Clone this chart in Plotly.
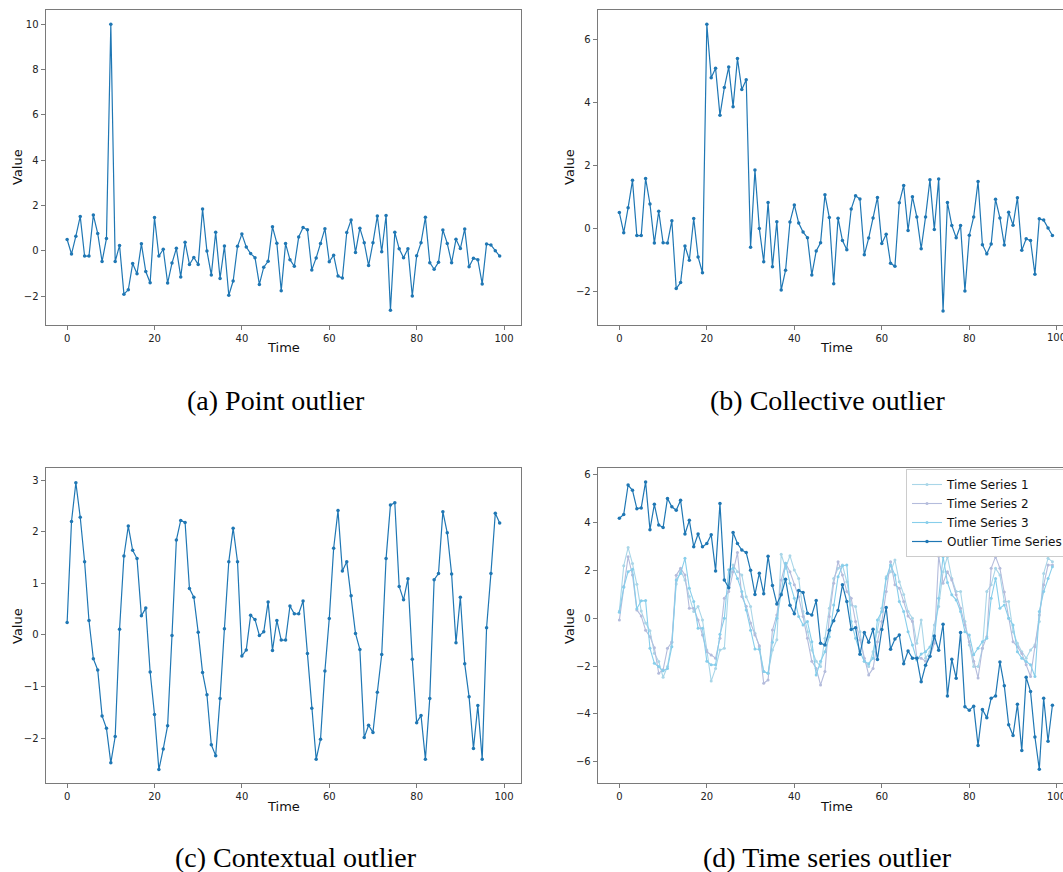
import plotly.graph_objects as go

W, H = 1063, 872
time = list(range(100))

point_vals = [0.50, -0.14, 0.65, 1.52, -0.23, -0.23, 1.58, 0.77, -0.47, 0.54,
              10.0, -0.47, 0.24, -1.91, -1.72, -0.56, -1.01, 0.31, -0.91, -1.41,
              1.47, -0.23, 0.07, -1.42, -0.54, 0.11, -1.15, 0.38, -0.60, -0.29,
              -0.60, 1.85, -0.01, -1.06, 0.82, -1.22, 0.21, -1.96, -1.33, 0.20,
              0.74, 0.17, -0.12, -0.30, -1.48, -0.72, -0.46, 1.06, 0.34, -1.76,
              0.32, -0.39, -0.68, 0.61, 1.03, 0.93, -0.84, -0.31, 0.33, 0.98,
              -0.48, -0.19, -1.11, -1.20, 0.81, 1.36, -0.07, 1.00, 0.36, -0.65,
              0.36, 1.54, -0.04, 1.56, -2.62, 0.82, 0.09, -0.30, 0.09, -1.99,
              -0.22, 0.36, 1.48, -0.52, -0.81, -0.50, 0.92, 0.33, -0.53, 0.51,
              0.10, 0.97, -0.70, -0.33, -0.39, -1.46, 0.30, 0.26, 0.01, -0.23]

collective_vals = [0.50, -0.14, 0.65, 1.52, -0.23, -0.23, 1.58, 0.77, -0.47, 0.54,
                   -0.46, -0.47, 0.24, -1.91, -1.72, -0.56, -1.01, 0.31, -0.91, -1.41,
                   6.47, 4.77, 5.07, 3.58, 4.46, 5.11, 3.85, 5.38, 4.40, 4.71,
                   -0.60, 1.85, -0.01, -1.06, 0.82, -1.22, 0.21, -1.96, -1.33, 0.20,
                   0.74, 0.17, -0.12, -0.30, -1.48, -0.72, -0.46, 1.06, 0.34, -1.76,
                   0.32, -0.39, -0.68, 0.61, 1.03, 0.93, -0.84, -0.31, 0.33, 0.98,
                   -0.48, -0.19, -1.11, -1.20, 0.81, 1.36, -0.07, 1.00, 0.36, -0.65,
                   0.36, 1.54, -0.04, 1.56, -2.62, 0.82, 0.09, -0.30, 0.09, -1.99,
                   -0.22, 0.36, 1.48, -0.52, -0.81, -0.50, 0.92, 0.33, -0.53, 0.51,
                   0.10, 0.97, -0.70, -0.33, -0.39, -1.46, 0.30, 0.26, 0.01, -0.23]

contextual_vals = [0.24, 2.20, 2.95, 2.28, 1.42, 0.28, -0.46, -0.68, -1.57, -1.81,
                   -2.48, -1.97, 0.11, 1.53, 2.11, 1.64, 1.48, 0.37, 0.52, -0.72,
                   -1.54, -2.61, -2.21, -1.76, -0.01, 1.84, 2.22, 2.18, 0.90, 0.73,
                   0.05, -0.73, -1.16, -2.13, -2.34, -1.23, 0.12, 1.42, 2.07, 1.42,
                   -0.41, -0.29, 0.38, 0.30, -0.01, 0.06, 0.64, -0.30, 0.28, -0.10,
                   -0.10, 0.56, 0.41, 0.41, 0.66, -0.36, -1.42, -2.41, -2.02, -0.70,
                   0.32, 1.68, 2.41, 1.24, 1.42, 0.76, 0.03, -0.28, -1.99, -1.75,
                   -1.89, -1.11, -0.38, 1.48, 2.52, 2.56, 0.94, 0.68, 1.09, -0.47,
                   -1.70, -1.56, -2.41, -1.23, 1.07, 1.19, 2.39, 1.98, 1.18, -0.15,
                   0.73, -0.56, -1.20, -2.20, -1.37, -2.41, 0.14, 1.19, 2.36, 2.17]

ts1_vals = [0.30, 2.20, 2.96, 2.29, 1.42, 0.30, -0.20, -0.52, -1.46, -1.81,
            -2.47, -2.02, -0.98, 1.44, 2.00, 1.60, 0.91, 0.28, 0.49, -0.07,
            -1.33, -2.63, -2.10, -1.33, -1.26, 1.40, 2.23, 1.95, 1.81, 0.90,
            0.49, -0.63, -1.20, -2.23, -2.30, -1.33, -0.90, 2.68, 2.10, 2.62,
            2.02, 1.67, 0.28, -0.56, -1.33, -1.80, -2.02, -0.84, 0.42, 1.67,
            2.09, 2.23, 1.53, 0.56, 0.49, -0.56, -1.80, -2.02, -1.40, -0.56,
            0.42, 1.74, 1.95, 2.44, 1.53, 1.00, 0.28, 0.00, -1.05, -0.07,
            -1.67, -1.40, -0.28, 0.49, 1.95, 2.58, 1.67, 1.12, 1.12, -0.14,
            -1.12, -2.02, -2.02, -1.26, 1.12, 1.40, 2.09, 1.81, 0.70, 0.70,
            -0.56, -1.05, -1.40, -1.67, -1.33, -1.12, -0.14, 1.88, 2.51, 2.37]

ts2_vals = [-0.07, 1.33, 2.58, 1.81, 0.35, 0.10, -0.50, -0.77, -1.23, -2.30,
            -2.16, -1.26, -1.00, 1.80, 2.09, 1.81, 0.42, 0.42, -0.07, -0.70,
            -1.40, -1.54, -1.67, -0.84, 0.84, 1.12, 1.95, 2.75, 0.91, 0.50,
            -0.20, -0.70, -1.15, -2.72, -2.58, -0.49, 0.14, 1.60, 2.30, 1.95,
            1.40, 0.90, 0.07, -0.84, -1.80, -2.10, -2.79, -2.23, 0.07, 1.47,
            2.37, 1.81, 1.12, 0.84, -0.14, -0.90, -1.67, -2.37, -2.10, -0.98,
            -0.14, 1.12, 2.37, 1.40, 1.26, 0.70, 0.10, -0.14, -1.63, -1.67,
            -1.80, -1.60, -1.05, 2.60, 1.47, 1.95, 1.60, 0.98, 0.42, -0.28,
            -0.98, -1.80, -2.50, -1.25, -0.77, 2.09, 2.58, 2.09, 1.10, 0.00,
            -0.98, -1.19, -1.47, -1.95, -2.44, -1.19, 0.14, 1.40, 2.23, 2.23]

ts3_vals = [0.25, 1.30, 1.95, 2.05, 0.40, 0.73, 0.74, -1.26, -1.88, -2.02,
            -2.20, -2.10, -1.19, 1.60, 1.88, 2.51, 1.26, 0.70, -0.42, -0.42,
            -1.80, -1.95, -1.95, -0.67, 0.00, 2.03, 2.09, 1.67, 1.12, 0.35,
            -0.50, -1.29, -1.30, -2.23, -2.30, -1.00, 0.00, 1.05, 2.30, 1.47,
            0.84, 0.07, -0.28, -0.14, -0.98, -2.37, -1.80, -1.40, -0.77, 0.56,
            1.74, 2.20, 2.23, -0.14, -0.84, -1.40, -1.80, -1.90, -1.67, -0.07,
            0.28, 1.67, 2.23, 1.81, 0.70, 0.28, -0.56, -1.12, -1.75, -1.50,
            -1.40, -1.20, -0.84, 0.84, 2.58, 1.50, 0.98, 0.77, 0.28, -0.56,
            -0.70, -1.53, -1.26, -0.98, -0.84, 0.84, 1.67, 0.42, 0.56, 0.00,
            -0.28, -1.40, -1.67, -1.81, -1.95, -2.44, 0.28, 1.12, 1.67, 2.16]

outlier_vals = [4.19, 4.35, 5.58, 5.36, 4.59, 4.62, 5.71, 3.71, 4.77, 3.91,
                3.80, 5.02, 4.67, 4.52, 4.94, 3.53, 4.10, 3.00, 3.53, 2.99,
                3.13, 3.50, 1.98, 4.81, 1.60, 1.28, 3.59, 3.13, 2.86, 2.75,
                2.01, 1.00, 1.89, 1.03, 2.60, 1.37, 0.60, 0.98, 1.63, 0.55,
                0.19, 1.16, 1.08, 0.21, 0.14, 0.74, -1.05, -1.12, -0.50, -0.10,
                0.33, 1.40, 0.70, -0.47, -0.40, -1.51, -0.60, -1.00, -0.46, -1.73,
                -0.47, 0.45, -1.30, -0.87, -0.70, -1.90, -1.37, -1.67, -1.67, -2.66,
                -1.97, -1.59, -0.74, -1.34, -0.25, -3.25, -1.72, -2.51, -0.60, -3.70,
                -3.85, -3.68, -5.33, -3.82, -4.16, -3.35, -3.25, -1.83, -2.83, -4.46,
                -4.91, -3.60, -5.54, -2.47, -3.07, -4.97, -6.32, -3.35, -5.15, -3.64]

x_ticks = [0, 20, 40, 60, 80, 100]
captions = ["(a) Point outlier", "(b) Collective outlier",
            "(c) Contextual outlier", "(d) Time series outlier"]
legend_names = ["Time Series 1", "Time Series 2", "Time Series 3", "Outlier Time Series"]

BLUE = "#1f77b4"
ts_colors = ["#a9d6e8", "#b4bcdc", "#87ceeb"]


def px_x(p):
    return p / W


def px_y(p):
    return 1 - p / H


fig = go.Figure()

panels = [
    ("", (45.5, 521.3), (10, 324.5), [-4.95, 103.95], [-3.25, 10.63], [-2, 0, 2, 4, 6, 8, 10]),
    ("2", (597.7, 1063), (10, 324.5), [-4.95, 101.42], [-3.05, 6.92], [-2, 0, 2, 4, 6]),
    ("3", (45.5, 521.3), (468.3, 783.3), [-4.95, 103.95], [-2.876, 3.23], [-2, -1, 0, 1, 2, 3]),
    ("4", (597.7, 1063), (468.3, 783.3), [-4.95, 101.42], [-6.91, 6.28], [-6, -4, -2, 0, 2, 4, 6]),
]

AX_COLOR = "#7a7a7a"
TICK_FONT = dict(family="DejaVu Sans", size=10, color="#222")

for i, (sid, xd, yd, xr, yr, yt) in enumerate(panels):
    full_box = sid in ("", "3")
    xa = dict(domain=[px_x(xd[0]), px_x(xd[1])], range=xr, anchor="y" + sid,
              tickvals=x_ticks, ticks="outside", ticklen=4, tickcolor=AX_COLOR,
              showline=True, linecolor=AX_COLOR, linewidth=1, mirror=True,
              showgrid=False, zeroline=False, tickfont=TICK_FONT, automargin=False)
    ya = dict(domain=[px_y(yd[1]), px_y(yd[0])], range=yr, anchor="x" + sid,
              tickvals=yt, ticks="outside", ticklen=4, tickcolor=AX_COLOR,
              showline=True, linecolor=AX_COLOR, linewidth=1, mirror=full_box,
              showgrid=False, zeroline=False, tickfont=TICK_FONT, automargin=False)
    fig.update_layout(**{"xaxis" + sid: xa, "yaxis" + sid: ya})

line_style = dict(width=1.2)
marker_style = dict(size=3.5)

fig.add_trace(go.Scatter(x=time, y=point_vals, mode="lines+markers",
                         line=dict(color=BLUE, **line_style), marker=dict(color=BLUE, **marker_style),
                         xaxis="x", yaxis="y", showlegend=False))
fig.add_trace(go.Scatter(x=time, y=collective_vals, mode="lines+markers",
                         line=dict(color=BLUE, **line_style), marker=dict(color=BLUE, **marker_style),
                         xaxis="x2", yaxis="y2", showlegend=False))
fig.add_trace(go.Scatter(x=time, y=contextual_vals, mode="lines+markers",
                         line=dict(color=BLUE, **line_style), marker=dict(color=BLUE, **marker_style),
                         xaxis="x3", yaxis="y3", showlegend=False))
for vals, col, name in zip([ts1_vals, ts2_vals, ts3_vals], ts_colors, legend_names[:3]):
    fig.add_trace(go.Scatter(x=time, y=vals, mode="lines+markers", name=name,
                             line=dict(color=col, width=1.1), marker=dict(color=col, size=3),
                             xaxis="x4", yaxis="y4"))
fig.add_trace(go.Scatter(x=time, y=outlier_vals, mode="lines+markers", name=legend_names[3],
                         line=dict(color=BLUE, **line_style), marker=dict(color=BLUE, **marker_style),
                         xaxis="x4", yaxis="y4"))

annotations = []
for cx, cy in [(283.4, 347), (836, 347), (283.4, 806), (836, 806)]:
    annotations.append(dict(text="Time", x=px_x(cx), y=px_y(cy), xref="paper", yref="paper",
                            showarrow=False, xanchor="center", yanchor="middle",
                            font=dict(family="DejaVu Sans", size=13, color="#111")))
for cx, cy in [(17, 167), (569, 167), (17, 626), (569, 626)]:
    annotations.append(dict(text="Value", x=px_x(cx), y=px_y(cy), xref="paper", yref="paper",
                            showarrow=False, xanchor="center", yanchor="middle", textangle=-90,
                            font=dict(family="DejaVu Sans", size=13, color="#111")))
# tick label "100" of the right-hand panels, which sits at the page edge
for xref, cy in [("x2", 337), ("x4", 796)]:
    annotations.append(dict(text=str(x_ticks[-1]), x=x_ticks[-1], y=px_y(cy), xref=xref, yref="paper",
                            showarrow=False, xanchor="center", yanchor="middle",
                            font=TICK_FONT))
for txt, cx, cy in zip(captions, [276, 827, 296, 827], [400, 400, 857, 857]):
    annotations.append(dict(text=txt, x=px_x(cx), y=px_y(cy), xref="paper", yref="paper",
                            showarrow=False, xanchor="center", yanchor="middle",
                            font=dict(family="Liberation Serif", size=28, color="#000")))

fig.update_layout(
    width=W, height=H, margin=dict(l=0, r=0, t=0, b=0, autoexpand=False),
    paper_bgcolor="white", plot_bgcolor="white",
    annotations=annotations,
    legend=dict(x=px_x(906), y=px_y(469), xanchor="left", yanchor="top",
                bgcolor="rgba(255,255,255,0.9)", bordercolor="#cccccc", borderwidth=1,
                font=dict(family="DejaVu Sans", size=12, color="#111"),
                tracegroupgap=0, itemwidth=30),
)

fig.write_html("out.html")
